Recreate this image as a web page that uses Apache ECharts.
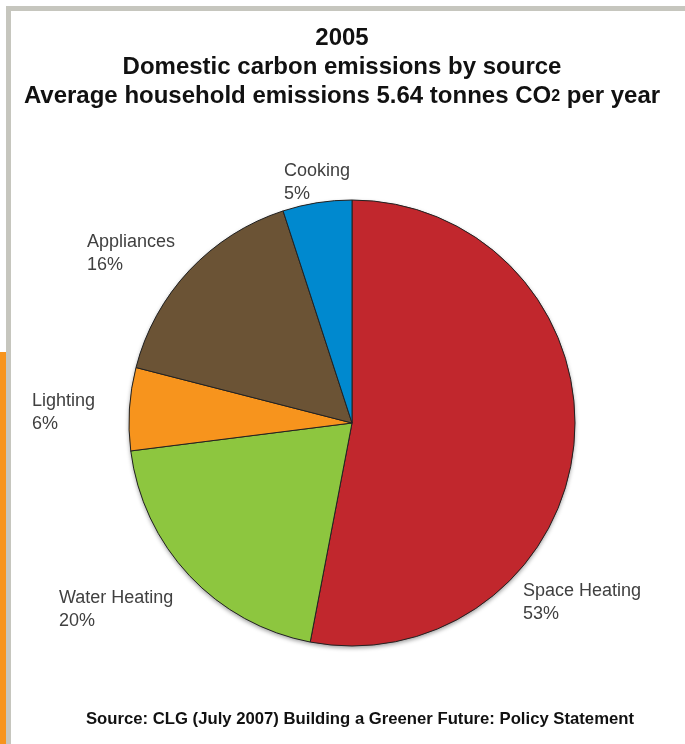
<!DOCTYPE html>
<html>
<head>
<meta charset="utf-8">
<script src="https://cdn.jsdelivr.net/npm/echarts@6/dist/echarts.min.js"></script>
<style>
html,body{margin:0;padding:0;background:#fff;}
#chart{width:685px;height:744px;}
</style>
</head>
<body>
<div id="chart"></div>
<script>
// Data
var categories = ['Space Heating', 'Water Heating', 'Lighting', 'Appliances', 'Cooking'];
var shares = [53, 20, 6, 16, 5];
var sliceColors = ['#c1272d', '#8dc63f', '#f7941d', '#6b5335', '#0089cf'];

// label anchor (top-left of label text block), page pixels
var labelAnchors = [[523, 580], [59, 587], [32, 390], [87, 231], [284, 160]];

var chart = echarts.init(document.getElementById('chart'), null, {renderer: 'canvas'});

var seriesData = categories.map(function (name, i) {
  return {name: name, value: shares[i], itemStyle: {color: sliceColors[i]}};
});
var shadowData = categories.map(function (name, i) {
  return {name: name, value: shares[i]};
});

var FONT = 'Liberation Sans, Arial, sans-serif';

var option = {
  backgroundColor: '#ffffff',
  animation: false,
  title: [{
    text: '2005\nDomestic carbon emissions by source\nAverage household emissions 5.64 tonnes CO{s|2} per year',
    left: 337,
    top: 19,
    textAlign: 'center',
    textStyle: {
      fontFamily: FONT,
      fontWeight: 'bold',
      fontSize: 24,
      lineHeight: 29,
      color: '#111',
      rich: {
        s: {fontFamily: FONT, fontWeight: 'bold', fontSize: 16, lineHeight: 29, color: '#111'}
      }
    }
  }, {
    text: 'Source: CLG (July 2007) Building a Greener Future: Policy Statement',
    left: 355,
    top: 706,
    textAlign: 'center',
    textStyle: {
      fontFamily: FONT,
      fontWeight: 'bold',
      fontSize: 16.7,
      color: '#111'
    }
  }],
  graphic: [
    {type: 'rect', shape: {x: 6, y: 6, width: 679, height: 5}, style: {fill: '#c6c6be'}, z: 100},
    {type: 'rect', shape: {x: 6, y: 6, width: 5, height: 738}, style: {fill: '#c6c6be'}, z: 100},
    {type: 'rect', shape: {x: 0, y: 352, width: 6, height: 392}, style: {fill: '#f7941d'}, z: 100}
  ],
  series: [{
    type: 'pie',
    silent: true,
    z: 1,
    center: [352, 423],
    radius: [0, 223],
    startAngle: 90,
    clockwise: true,
    itemStyle: {
      color: '#888',
      borderWidth: 0,
      shadowBlur: 4,
      shadowOffsetY: 2,
      shadowColor: 'rgba(0,0,0,0.4)'
    },
    label: {show: false},
    labelLine: {show: false},
    emphasis: {disabled: true},
    data: shadowData
  }, {
    type: 'pie',
    z: 2,
    center: [352, 423],
    radius: [0, 223],
    startAngle: 90,
    clockwise: true,
    avoidLabelOverlap: false,
    itemStyle: {
      borderColor: '#222',
      borderWidth: 1
    },
    label: {
      show: true,
      position: 'outside',
      formatter: '{b}\n{c}%',
      fontFamily: FONT,
      fontSize: 18,
      lineHeight: 23,
      color: '#404040',
      align: 'left'
    },
    labelLine: {show: false},
    labelLayout: function (params) {
      var a = labelAnchors[params.dataIndex];
      return {x: a[0], y: a[1], align: 'left', verticalAlign: 'top'};
    },
    emphasis: {disabled: true},
    data: seriesData
  }]
};
chart.setOption(option);
</script>
</body>
</html>
